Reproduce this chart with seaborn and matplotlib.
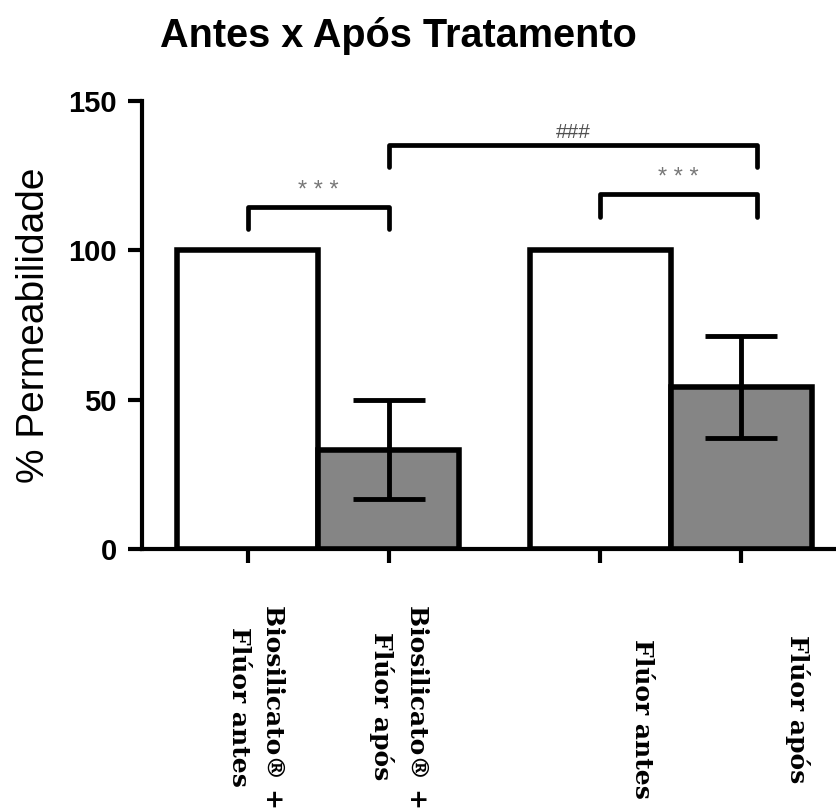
import numpy as np
import pandas as pd
import matplotlib.pyplot as plt
import matplotlib.transforms as mtransforms
import seaborn as sns

# dados
grupos = ["Biosilicato® + Flúor", "Biosilicato® + Flúor", "Flúor", "Flúor"]
momentos = ["antes", "após", "antes", "após"]
permeabilidade = [100, 33.3, 100, 54.2]
erro = [0, 16.6, 0, 17.0]
rotulos = ["Biosilicato® +\nFlúor antes", "Biosilicato® +\nFlúor após",
           "Flúor antes", "Flúor após"]

# comparacoes: (barra i, barra j, altura, texto)
comp_i = [0, 1, 2]
comp_j = [1, 3, 3]
comp_altura = [114.5, 135.3, 118.7]
comp_texto = ["* * *", "###", "* * *"]

df = pd.DataFrame({"grupo": grupos, "momento": momentos, "perm": permeabilidade})

sns.set_theme(style="ticks")
plt.rcParams['font.family'] = ['Liberation Sans', 'DejaVu Sans']
plt.rcParams.update({"text.color": "black", "axes.labelcolor": "black",
                     "xtick.color": "black", "ytick.color": "black"})

fig = plt.figure(figsize=(8.37, 8.09), dpi=100)
ax = fig.add_axes([0.1697, 0.3214, 0.8303, 0.5538])

sns.barplot(data=df, x="grupo", y="perm", hue="momento",
            palette={"antes": "white", "após": "#858585"},
            edgecolor="black", linewidth=4, saturation=1,
            errorbar=None, legend=False, ax=ax)

# centros das barras, na ordem da esquerda para a direita
barras = sorted([p for p in ax.patches if p.get_height() > 0], key=lambda p: p.get_x())
centros = np.array([p.get_x() + p.get_width() / 2 for p in barras])

# barras de erro so onde ha erro
com_erro = np.array(erro) > 0
ax.errorbar(centros[com_erro], np.array(permeabilidade)[com_erro],
            yerr=np.array(erro)[com_erro], fmt="none", ecolor="black",
            elinewidth=3.5, capsize=26, capthick=3.5, zorder=5)

# colchetes de significancia
ajuste = [0.0, 0.0, 0.0, 0.045]
for i, j, h, txt in zip(comp_i, comp_j, comp_altura, comp_texto):
    x1 = centros[i] + ajuste[i]
    x2 = centros[j] + ajuste[j]
    ax.plot([x1, x1, x2, x2], [h - 7.5, h, h, h - 7.5], color="black", lw=3.4,
            solid_joinstyle="round", solid_capstyle="round", clip_on=False)
    if txt == "###":
        ax.text((x1 + x2) / 2, h + 4.3, txt, ha="center", va="center",
                fontsize=15, color="#505050")
    else:
        ax.text((x1 + x2) / 2, h + 5.5, txt, ha="center", va="center",
                fontsize=17, color="#777777")

ax.set_xlim(-0.5, 1.472)
ax.set_ylim(0, 150)
ax.set_yticks([0, 50, 100, 150])
ax.set_yticklabels(["0", "50", "100", "150"], fontsize=21, fontweight="bold")
ax.set_ylabel("% Permeabilidade", fontsize=28, labelpad=12)
ax.set_xlabel("")

ax.set_xticks(centros)
ax.set_xticklabels(rotulos, rotation=-90, fontsize=18, fontweight="bold",
                   family="DejaVu Serif", linespacing=1.55)
ax.tick_params(axis="both", length=10, width=3, color="black")
ax.tick_params(axis="y", pad=8)
ax.tick_params(axis="x", pad=30)

for sp in ["top", "right"]:
    ax.spines[sp].set_visible(False)
for sp in ["left", "bottom"]:
    ax.spines[sp].set_linewidth(3)
    ax.spines[sp].set_color("black")

# deslocamento de cada rotulo (pixels)
desloc_x = [8, 10, 42, 56]
desloc_y = [0, 0, 34, 30]
for lab, dx, dy in zip(ax.get_xticklabels(), desloc_x, desloc_y):
    lab.set_transform(lab.get_transform() +
                      mtransforms.ScaledTranslation(dx / 100, -dy / 100, fig.dpi_scale_trans))

fig.text(0.476, 0.942, "Antes x Após Tratamento", ha="center", va="baseline",
         fontsize=28.5, fontweight="bold")

fig.savefig("out.png", dpi=100, facecolor="white")
